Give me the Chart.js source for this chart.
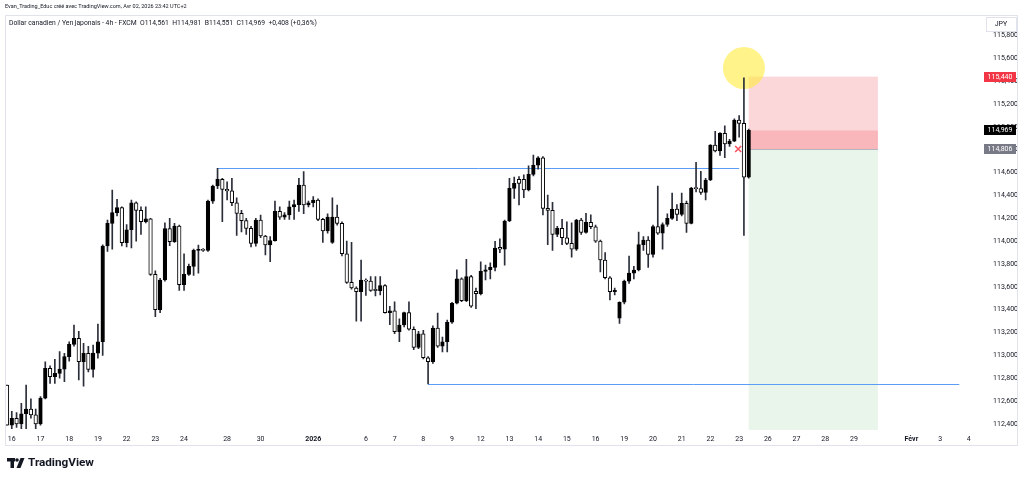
<!DOCTYPE html>
<html lang="fr">
<head>
<meta charset="utf-8">
<title>CAD/JPY 4h</title>
<script src="https://cdn.jsdelivr.net/npm/chart.js@4.4.1/dist/chart.umd.min.js"></script>
<style>
  html, body { margin: 0; padding: 0; background: #fff; }
  #wrap { width: 1024px; height: 480px; }
</style>
</head>
<body>
<div id="wrap"><canvas id="cadjpy" width="1024" height="480"></canvas></div>
<script>
// jours sous l'axe du temps et nombre de bougies 4h par segment
var dayLabels = ['', '16', '17', '18', '19', '22', '23', '24', '28', '30', '2026',
    '6', '7', '8', '9', '12', '13', '14', '15', '16', '19', '20', '21', '22', '23',
    '26', '27', '28', '29', 'Févr', '3', '4'];
var dayBars = [1, 6, 6, 6, 6, 6, 6, 9, 7, 11, 11,
    6, 6, 6, 6, 6, 6, 6, 6, 6, 6, 6, 6, 6, 6,
    6, 6, 6, 12, 6, 6, 2];

// bougies CAD/JPY 4h
var opens = [
    112.74, 112.39, 112.45, 112.40, 112.49, 112.53, 112.48, 112.40, 112.625, 112.887,
    112.814, 112.843, 112.88, 112.989, 113.097, 113.15, 112.945, 113.018, 112.878, 113.02,
    113.12, 113.958, 114.156, 114.249, 114.293, 113.986, 114.10, 114.336, 114.27, 114.17,
    114.195, 113.71, 113.40, 113.66, 114.11, 113.995, 114.133, 113.62, 113.71, 113.78,
    113.92, 113.925, 113.92, 114.35, 114.483, 114.54, 114.453, 114.44, 114.336, 114.243,
    114.179, 114.112, 113.98, 114.185, 114.045, 113.966, 114.004, 114.26, 114.21, 114.23,
    114.30, 114.32, 114.49, 114.316, 114.336, 114.36, 114.19, 114.09, 113.99, 114.21,
    114.156, 113.89, 113.64, 113.59, 113.557, 113.66, 113.65, 113.578, 113.567, 113.612,
    113.374, 113.39, 113.207, 113.266, 113.374, 113.229, 113.07, 113.19, 112.98, 112.945,
    113.24, 113.08, 113.12, 113.29, 113.457, 113.67, 113.48, 113.69, 113.56, 113.54,
    113.735, 113.75, 113.77, 113.945, 113.93, 114.176, 114.462, 114.54, 114.54, 114.448,
    114.585, 114.666, 114.73, 114.287, 114.27, 114.06, 114.112, 114.03, 113.98, 113.93,
    114.185, 114.077, 114.165, 114.126, 114.0, 113.835, 113.68, 113.558, 113.325, 113.465,
    113.65, 113.72, 113.7475, 113.97, 114.01, 113.885, 114.127, 114.07, 114.146, 114.20,
    114.28, 114.235, 114.33, 114.156, 114.465, 114.46, 114.427, 114.535, 114.84, 114.79,
    114.944, 114.85, 114.876, 115.06, 115.03, 114.561
];
var highs = [
    112.74, 112.51, 112.50, 112.58, 112.74, 112.62, 112.53, 112.64, 112.945, 112.91,
    112.965, 113.033, 113.018, 113.12, 113.266, 113.21, 113.105, 113.08, 113.09, 113.275,
    113.967, 114.185, 114.448, 114.366, 114.30, 114.144, 114.36, 114.345, 114.30, 114.30,
    114.20, 113.74, 113.675, 114.16, 114.20, 114.155, 114.14, 113.89, 113.80, 113.93,
    113.965, 113.935, 114.36, 114.49, 114.637, 114.55, 114.52, 114.55, 114.38, 114.27,
    114.20, 114.13, 114.20, 114.229, 114.05, 114.04, 114.35, 114.30, 114.25, 114.35,
    114.36, 114.55, 114.608, 114.35, 114.39, 114.37, 114.20, 114.24, 114.38, 114.316,
    114.17, 114.0, 113.99, 113.60, 113.835, 113.67, 113.69, 113.69, 113.69, 113.62,
    113.43, 113.47, 113.32, 113.38, 113.47, 113.25, 113.21, 113.22, 112.99, 113.26,
    113.37, 113.16, 113.31, 113.465, 113.75, 113.68, 113.84, 113.70, 113.59, 113.82,
    113.79, 113.81, 113.998, 114.02, 114.185, 114.55, 114.56, 114.564, 114.58, 114.66,
    114.754, 114.74, 114.74, 114.404, 114.34, 114.13, 114.19, 114.17, 114.16, 114.19,
    114.20, 114.244, 114.23, 114.14, 114.01, 113.90, 113.69, 113.59, 113.47, 113.66,
    113.87, 113.78, 114.08, 114.04, 114.04, 114.14, 114.4825, 114.16, 114.24, 114.42,
    114.32, 114.42, 114.35, 114.47, 114.69, 114.61, 114.55, 114.845, 114.96, 114.95,
    115.01, 114.89, 115.07, 115.098, 115.43, 114.981
];
var lows = [
    112.39, 112.36, 112.37, 112.36, 112.36, 112.45, 112.36, 112.39, 112.62, 112.756,
    112.756, 112.80, 112.77, 112.95, 113.08, 112.785, 112.73, 112.855, 112.81, 112.975,
    113.0, 113.91, 113.93, 114.22, 113.958, 113.95, 113.94, 114.0, 114.06, 114.16,
    113.70, 113.34, 113.375, 113.65, 113.96, 113.99, 113.57, 113.57, 113.70, 113.70,
    113.72, 113.91, 113.91, 114.33, 114.46, 114.17, 114.36, 114.31, 114.05, 114.08,
    114.06, 113.95, 113.957, 114.03, 113.88, 113.82, 114.0, 114.19, 114.19, 114.19,
    114.19, 114.26, 114.24, 114.30, 114.30, 114.18, 113.99, 114.07, 113.98, 114.14,
    113.87, 113.63, 113.58, 113.30, 113.30, 113.525, 113.56, 113.52, 113.53, 113.37,
    113.27, 113.19, 113.12, 113.25, 113.22, 113.05, 113.06, 112.97, 112.75, 112.93,
    113.07, 113.03, 113.03, 113.28, 113.45, 113.47, 113.47, 113.42, 113.41, 113.53,
    113.66, 113.67, 113.74, 113.90, 113.79, 114.17, 114.375, 114.316, 114.38, 114.44,
    114.57, 114.63, 114.229, 113.97, 113.92, 114.04, 113.97, 113.97, 113.86, 113.92,
    114.06, 114.07, 114.11, 113.99, 113.73, 113.67, 113.485, 113.53, 113.28, 113.45,
    113.63, 113.67, 113.74, 113.92, 113.77, 113.86, 114.06, 113.93, 114.13, 114.19,
    114.18, 114.22, 114.077, 114.15, 114.43, 114.41, 114.36, 114.53, 114.78, 114.75,
    114.73, 114.83, 114.87, 114.91, 114.05, 114.551
];
var closes = [
    112.39, 112.45, 112.40, 112.49, 112.53, 112.48, 112.40, 112.625, 112.887, 112.814,
    112.843, 112.88, 112.989, 113.097, 113.15, 112.945, 113.018, 112.878, 113.02, 113.12,
    113.958, 114.156, 114.249, 114.293, 113.986, 114.10, 114.336, 114.27, 114.17, 114.195,
    113.71, 113.40, 113.66, 114.11, 113.995, 114.133, 113.62, 113.71, 113.78, 113.92,
    113.925, 113.92, 114.35, 114.483, 114.54, 114.453, 114.44, 114.336, 114.243, 114.179,
    114.112, 113.98, 114.185, 114.045, 113.966, 114.004, 114.26, 114.21, 114.23, 114.30,
    114.32, 114.49, 114.316, 114.336, 114.36, 114.19, 114.09, 114.21, 114.21, 114.156,
    113.89, 113.64, 113.59, 113.557, 113.66, 113.65, 113.57, 113.567, 113.612, 113.374,
    113.39, 113.207, 113.266, 113.374, 113.229, 113.07, 113.19, 112.98, 112.945, 113.24,
    113.08, 113.12, 113.29, 113.457, 113.67, 113.48, 113.69, 113.43, 113.54, 113.735,
    113.75, 113.77, 113.94, 113.93, 114.176, 114.462, 114.506, 114.506, 114.448, 114.585,
    114.666, 114.73, 114.287, 114.27, 114.06, 114.112, 114.03, 113.98, 113.93, 114.185,
    114.077, 114.165, 114.126, 114.0, 113.835, 113.68, 113.558, 113.57, 113.465, 113.65,
    113.72, 113.7475, 113.97, 114.01, 113.885, 114.127, 114.07, 114.146, 114.20, 114.28,
    114.235, 114.33, 114.156, 114.465, 114.46, 114.427, 114.535, 114.84, 114.79, 114.944,
    114.85, 114.876, 115.06, 115.03, 114.561, 114.969
];

var priceTicks = [112.4, 112.6, 112.8, 113.0, 113.2, 113.4, 113.6, 113.8, 114.0,
    114.2, 114.4, 114.6, 114.8, 115.0, 115.2, 115.4, 115.6, 115.8];

// lignes horizontales tracées : [bougie de départ, bougie de fin, prix]
var hLines = [[44, 153, 114.637], [88, 199, 112.75]];

// position vendeuse
var entryPrice = 114.806;
var stopPrice = 115.44;
var targetPrice = 112.30;
var positionFrom = 155;
var positionTo = 182;

var categories = [];
dayLabels.forEach(function (d, k) {
    for (var j = 0; j < dayBars[k]; j++) {
        categories.push(j === 0 ? d : '');
    }
});

var fontFamily = 'Roboto, "Open Sans", "DejaVu Sans", sans-serif';
var textColor = '#131722';

function fmtPrice(v) {
    return v.toFixed(3).replace('.', ',');
}

function fitFont(ctx, text, width, weight) {
    var size = 10;
    ctx.font = (weight || '') + ' ' + size + 'px ' + fontFamily;
    var w = ctx.measureText(text).width;
    size = size * width / w;
    ctx.font = (weight || '') + ' ' + size.toFixed(2) + 'px ' + fontFamily;
}

var decor = {
    id: 'decor',
    beforeDraw: function (chart) {
        var ctx = chart.ctx;
        ctx.save();
        ctx.fillStyle = '#ffffff';
        ctx.fillRect(0, 0, chart.width, chart.height);
        ctx.restore();
    },
    beforeDatasetsDraw: function (chart) {
        var ctx = chart.ctx;
        var xs = chart.scales.x, ys = chart.scales.y, a = chart.chartArea;
        var x0 = xs.getPixelForValue(positionFrom);
        var x1 = xs.getPixelForValue(positionTo);
        var current = closes[closes.length - 1];
        ctx.save();
        ctx.beginPath();
        ctx.rect(a.left, a.top, a.right - a.left, a.bottom - a.top);
        ctx.clip();

        // zone de stop
        var yStop = ys.getPixelForValue(stopPrice);
        var yEntry = ys.getPixelForValue(entryPrice);
        var yCur = ys.getPixelForValue(current);
        var yTarget = ys.getPixelForValue(targetPrice);
        ctx.fillStyle = 'rgba(242, 54, 69, 0.2)';
        ctx.fillRect(x0, yStop, x1 - x0, yEntry - yStop);
        ctx.fillRect(x0, yCur, x1 - x0, yEntry - yCur);
        // zone d'objectif
        ctx.fillStyle = 'rgba(76, 175, 80, 0.12)';
        ctx.fillRect(x0, yEntry, x1 - x0, yTarget - yEntry);
        ctx.strokeStyle = '#b2b5be';
        ctx.lineWidth = 1;
        ctx.beginPath();
        ctx.moveTo(x0, Math.round(yEntry) + 0.5);
        ctx.lineTo(x1, Math.round(yEntry) + 0.5);
        ctx.stroke();

        // lignes bleues
        ctx.strokeStyle = '#5b9cf6';
        hLines.forEach(function (ln) {
            var y = Math.round(ys.getPixelForValue(ln[2])) + 0.5;
            ctx.beginPath();
            ctx.moveTo(xs.getPixelForValue(ln[0]), y);
            ctx.lineTo(xs.getPixelForValue(ln[1]), y);
            ctx.stroke();
        });

        // cercle jaune sur la mèche haute
        ctx.fillStyle = 'rgba(255, 235, 59, 0.6)';
        ctx.beginPath();
        ctx.arc(xs.getPixelForValue(154), ys.getPixelForValue(115.515), 21, 0, Math.PI * 2);
        ctx.fill();

        // croix d'entrée
        var cx = xs.getPixelForValue(152.8), cy = ys.getPixelForValue(entryPrice);
        ctx.strokeStyle = '#f7525f';
        ctx.lineWidth = 1.6;
        ctx.beginPath();
        ctx.moveTo(cx - 3, cy - 3); ctx.lineTo(cx + 3, cy + 3);
        ctx.moveTo(cx + 3, cy - 3); ctx.lineTo(cx - 3, cy + 3);
        ctx.stroke();
        ctx.restore();
    },
    afterDraw: function (chart) {
        var ctx = chart.ctx;
        var ys = chart.scales.y;
        ctx.save();

        // cadre
        ctx.strokeStyle = '#e0e3eb';
        ctx.lineWidth = 1;
        ctx.strokeRect(5.5, 15.5, 1012, 430);

        // en-têtes
        ctx.fillStyle = textColor;
        ctx.textBaseline = 'middle';
        ctx.textAlign = 'left';
        var line1 = 'Evan_Trading_Educ créé avec TradingView.com, Avr 02, 2026 23:42 UTC+2';
        fitFont(ctx, line1, 182);
        ctx.fillText(line1, 5, 7);
        var line2 = 'Dollar canadien / Yen japonais - 4h - FXCM  O114,561  H114,981  B114,551  C114,969  +0,408 (+0,36%)';
        fitFont(ctx, line2, 308);
        ctx.fillText(line2, 9, 23);

        // étiquettes de prix
        var tags = [[stopPrice, '#f23645'], [closes[closes.length - 1], '#000000'], [entryPrice, '#787b86']];
        ctx.font = '7px ' + fontFamily;
        ctx.textAlign = 'center';
        tags.forEach(function (t) {
            var y = ys.getPixelForValue(t[0]);
            ctx.fillStyle = t[1];
            ctx.fillRect(984, Math.round(y) - 5, 32, 10);
            ctx.fillStyle = '#ffffff';
            ctx.fillText(fmtPrice(t[0]), 1000, Math.round(y));
        });

        // boîte de devise
        ctx.fillStyle = '#ffffff';
        ctx.fillRect(986, 17, 30, 14);
        ctx.strokeStyle = '#e0e3eb';
        ctx.strokeRect(986.5, 17.5, 30, 14);
        ctx.fillStyle = textColor;
        ctx.fillText('JPY', 1001, 24.5);

        // logo TradingView
        ctx.fillStyle = textColor;
        ctx.fillRect(7, 458, 8, 3.5);
        ctx.fillRect(10.5, 458, 3.5, 10);
        ctx.beginPath();
        ctx.arc(17, 460, 1.8, 0, Math.PI * 2);
        ctx.fill();
        ctx.beginPath();
        ctx.moveTo(20.5, 458); ctx.lineTo(24.5, 458); ctx.lineTo(20.5, 468); ctx.lineTo(16.5, 468);
        ctx.closePath();
        ctx.fill();
        ctx.textAlign = 'left';
        fitFont(ctx, 'TradingView', 66, 'bold');
        ctx.fillText('TradingView', 28, 463.5);
        ctx.restore();
    }
};

var ctx = document.getElementById('cadjpy').getContext('2d');
var cadjpyChart = new Chart(ctx, {
    type: 'bar',
    data: {
        labels: categories,
        datasets: [{
            label: 'Corps',
            data: opens.map(function (o, i) { return [o, closes[i]]; }),
            backgroundColor: opens.map(function (o, i) { return closes[i] >= o ? '#000000' : '#ffffff'; }),
            borderColor: '#000000',
            borderWidth: 1,
            borderSkipped: false,
            minBarLength: 1,
            barThickness: 3.6,
            grouped: false
        }, {
            label: 'Mèches',
            data: lows.map(function (l, i) { return [l, highs[i]]; }),
            backgroundColor: '#2a2e39',
            borderWidth: 0,
            barThickness: 1,
            grouped: false
        }]
    },
    options: {
        responsive: false,
        animation: false,
        devicePixelRatio: 1,
        layout: { padding: { left: 4.6, right: 6, top: 15, bottom: 34 } },
        plugins: {
            legend: { display: false },
            tooltip: { enabled: false }
        },
        scales: {
            x: {
                offset: true,
                grid: { display: false, drawTicks: false },
                border: { display: false },
                afterFit: function (s) { s.height = 16; },
                ticks: {
                    autoSkip: false,
                    maxRotation: 0,
                    padding: 5,
                    color: textColor,
                    font: function (c) {
                        var lab = categories[c.index];
                        return { family: fontFamily, size: 7, weight: (lab === '2026' || lab === 'Févr') ? 'bold' : 'normal' };
                    },
                    callback: function (v, i) { return categories[i]; }
                }
            },
            y: {
                position: 'right',
                min: 112.3475,
                max: 115.979,
                grid: { display: false, drawTicks: false },
                border: { display: false },
                afterBuildTicks: function (s) {
                    s.ticks = priceTicks.map(function (v) { return { value: v }; });
                },
                afterFit: function (s) { s.width = 42; },
                ticks: {
                    crossAlign: 'far',
                    padding: 7,
                    color: textColor,
                    font: { family: fontFamily, size: 7 },
                    callback: function (v) { return fmtPrice(v); }
                }
            }
        }
    },
    plugins: [decor]
});
</script>
</body>
</html>
